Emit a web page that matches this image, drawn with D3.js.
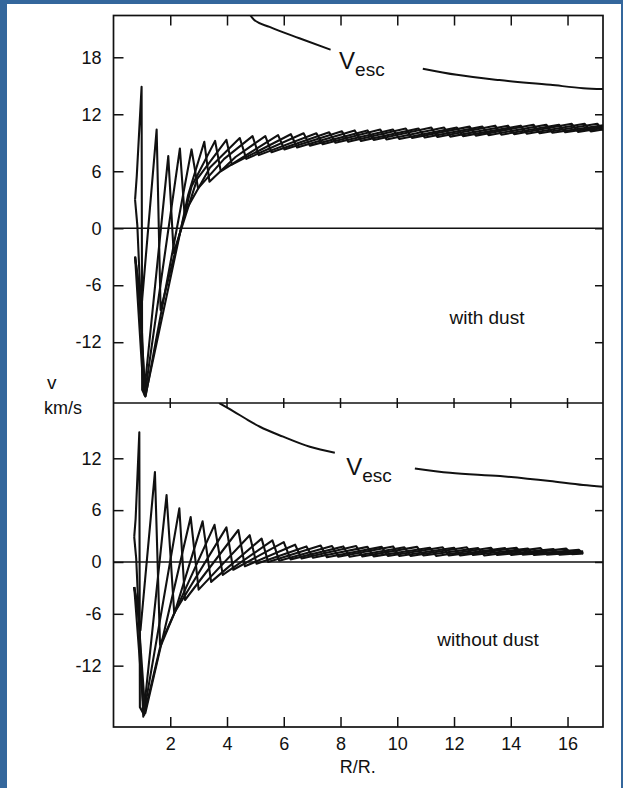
<!DOCTYPE html>
<html>
<head>
<meta charset="utf-8">
<script src="https://cdn.jsdelivr.net/npm/d3@7"></script>
<style>
  html, body { margin: 0; padding: 0; background: #ffffff; }
  svg { display: block; }
  text { font-family: "Liberation Sans", Arial, Helvetica, sans-serif; fill: #111; }
</style>
</head>
<body>
<svg id="chart" width="623" height="788"></svg>
<script>
// Radial velocity profiles v(R) of the pulsating atmosphere at five phases.
// Each profile is listed as [R/R*, v (km/s)] turning points.

// ---- with dust (upper panel) ----
const dustShell0 = [[0.76,3.0],[0.82,5.5],[0.99,14.9],[1.01,-17.0],[1.12,-17.7],[2.63,3.5],[3.2,9.1],[3.38,4.9],[4.3,7.5],[5.35,9.7],[5.57,8.0],[7.6,10.1],[7.82,9.0],[9.85,10.4],[10.07,9.4],[12.1,10.6],[12.32,9.7],[14.35,10.8],[14.57,9.95],[16.6,11.0],[16.82,10.2],[17.25,10.4]];
const dustShell1 = [[0.76,-3.0],[0.99,-8.2],[1.52,10.4],[1.66,-8.6],[2.75,4.4],[3.58,9.2],[3.78,6.0],[5.8,9.8],[6.02,8.3],[8.05,10.2],[8.27,9.1],[10.3,10.5],[10.52,9.5],[12.55,10.7],[12.77,9.75],[14.8,10.9],[15.02,10.0],[17.05,11.0],[17.25,10.3]];
const dustShell2 = [[0.76,-3.0],[1.0,-14.5],[1.08,-17.4],[1.93,7.6],[2.12,-2.6],[2.95,5.2],[3.98,9.3],[4.17,6.7],[6.25,9.9],[6.47,8.5],[8.5,10.3],[8.72,9.2],[10.75,10.5],[10.97,9.55],[13.0,10.7],[13.22,9.8],[15.25,10.9],[15.47,10.05],[17.25,10.85]];
const dustShell3 = [[0.76,3.0],[0.84,0.3],[1.1,-17.6],[2.34,8.4],[2.5,1.6],[3.4,6.4],[4.45,9.5],[4.68,7.3],[6.7,10.0],[6.92,8.7],[8.95,10.3],[9.17,9.3],[11.2,10.6],[11.42,9.6],[13.45,10.8],[13.67,9.85],[15.7,10.9],[15.92,10.1],[17.25,10.7]];
const dustShell4 = [[0.76,-3.0],[0.86,-5.5],[1.13,-17.7],[2.75,8.3],[2.98,4.2],[3.9,7.3],[4.9,9.7],[5.12,7.7],[7.15,10.0],[7.37,8.85],[9.4,10.4],[9.62,9.35],[11.65,10.6],[11.87,9.65],[13.9,10.8],[14.12,9.9],[16.15,11.0],[16.37,10.15],[17.25,10.55]];

// ---- without dust (lower panel) ----
const plainShell0 = [[0.73,2.9],[0.78,5.0],[0.91,15.0],[0.93,-16.8],[1.08,-17.7],[1.64,-9.9],[2.17,-5.7],[3.14,4.7],[3.44,-2.3],[5.22,2.7],[5.45,0.0],[7.3,1.9],[7.52,0.55],[9.45,1.75],[9.67,0.7],[11.6,1.7],[11.82,0.75],[13.8,1.6],[14.02,0.8],[15.95,1.55],[16.17,0.9],[16.55,1.0]];
const plainShell1 = [[0.73,-2.9],[0.95,-7.9],[1.46,10.4],[1.64,-9.6],[3.56,4.3],[3.85,-1.5],[5.6,2.5],[5.84,0.15],[7.7,1.85],[7.92,0.6],[9.85,1.8],[10.07,0.7],[12.0,1.65],[12.22,0.75],[14.2,1.65],[14.42,0.85],[16.4,1.4],[16.55,0.95]];
const plainShell2 = [[0.73,-2.9],[1.0,-14.6],[1.07,-17.3],[1.87,7.75],[2.14,-5.9],[3.98,4.0],[4.22,-0.9],[6.0,2.3],[6.24,0.3],[8.1,1.8],[8.32,0.6],[10.25,1.7],[10.47,0.7],[12.45,1.7],[12.67,0.8],[14.6,1.55],[14.82,0.8],[16.55,1.25]];
const plainShell3 = [[0.73,2.9],[0.8,0.4],[1.05,-17.9],[2.32,6.2],[2.52,-4.4],[4.4,3.7],[4.63,-0.5],[6.4,2.0],[6.63,0.4],[8.55,1.85],[8.77,0.65],[10.7,1.75],[10.92,0.75],[12.85,1.6],[13.07,0.75],[15.05,1.6],[15.27,0.85],[16.55,1.15]];
const plainShell4 = [[0.73,-2.9],[0.85,-5.0],[1.12,-17.5],[2.72,5.2],[3.0,-3.2],[4.8,3.1],[5.04,-0.2],[6.8,1.8],[7.03,0.5],[8.95,1.75],[9.17,0.65],[11.15,1.65],[11.37,0.7],[13.3,1.65],[13.52,0.8],[15.5,1.5],[15.72,0.85],[16.55,1.05]];

// ---- escape velocity (two pieces each, broken around the label) ----
const vescDustInner   = [[4.7,23.0],[4.95,21.95],[5.5,21.2],[6.55,20.0],[7.65,18.8]];
const vescDustOuter   = [[10.9,16.8],[12.1,16.15],[13.6,15.6],[15.4,15.1],[16.55,14.75],[17.25,14.65]];
const vescPlainInner  = [[3.72,18.4],[4.2,17.5],[4.8,16.3],[5.16,15.65],[5.98,14.5],[6.92,13.33],[7.8,12.65]];
const vescPlainOuter  = [[10.62,10.83],[11.86,10.32],[13.62,9.94],[15.38,9.36],[16.55,8.9],[17.25,8.7]];

// ---- axes ----
const radiusTicks = [2,4,6,8,10,12,14,16];
const dustTicks   = [-12,-6,0,6,12,18];
const plainTicks  = [-12,-6,0,6,12];

const svg = d3.select("#chart");
const W = 623, H = 788;

// page border
svg.append("rect").attr("x",0).attr("y",0).attr("width",W).attr("height",H).attr("fill","#34679c");
svg.append("rect").attr("x",7).attr("y",4).attr("width",W-9).attr("height",H-4).attr("fill","#ffffff");

const left = 113.5, right = 603;
const x = d3.scaleLinear().domain([0, 17.25]).range([left, right]);

const panels = [
  { id:"dust",  y: d3.scaleLinear().domain([-18.4, 22.4]).range([403, 15.5]), ticks: dustTicks,
    shells:[dustShell0,dustShell1,dustShell2,dustShell3,dustShell4],
    vesc:[vescDustInner, vescDustOuter], label:"with dust", labelPos:[13.16,-10.1],
    vescLabel:[7.95,16.8] },
  { id:"plain", y: d3.scaleLinear().domain([-19.1, 18.4]).range([727, 403]), ticks: plainTicks,
    shells:[plainShell0,plainShell1,plainShell2,plainShell3,plainShell4],
    vesc:[vescPlainInner, vescPlainOuter], label:"without dust", labelPos:[13.2,-9.7],
    vescLabel:[8.2,10.05] }
];

const defs = svg.append("defs");

panels.forEach(p => {
  const y = p.y;
  const top = y.range()[1], bottom = y.range()[0];

  defs.append("clipPath").attr("id","clip-"+p.id)
    .append("rect").attr("x",left).attr("y",top).attr("width",right-left).attr("height",bottom-top);

  const g = svg.append("g");

  // zero line
  g.append("line").attr("x1",left).attr("x2",right).attr("y1",y(0)).attr("y2",y(0))
    .attr("stroke","#111").attr("stroke-width",1.5);

  const line = d3.line().x(d => x(d[0])).y(d => y(d[1]));
  const smooth = d3.line().x(d => x(d[0])).y(d => y(d[1])).curve(d3.curveMonotoneX);

  const plot = g.append("g").attr("clip-path","url(#clip-"+p.id+")");
  p.shells.forEach(s => {
    plot.append("path").attr("d", line(s)).attr("fill","none")
      .attr("stroke","#111").attr("stroke-width",2.1).attr("stroke-linejoin","round");
  });
  p.vesc.forEach(s => {
    plot.append("path").attr("d", smooth(s)).attr("fill","none")
      .attr("stroke","#111").attr("stroke-width",2.0);
  });

  // left axis with inward ticks
  g.append("g").attr("transform",`translate(${left},0)`)
    .call(d3.axisLeft(y).tickValues(p.ticks).tickSizeInner(-10).tickSizeOuter(0).tickPadding(12).tickFormat(d => d < 0 ? "-" + Math.abs(d) : d))
    .call(a => a.select(".domain").remove())
    .call(a => a.selectAll("line").attr("stroke","#111").attr("stroke-width",1.5))
    .call(a => a.selectAll("text").attr("font-size",18).attr("fill","#111")
      .style("font-family","'Liberation Sans', Arial, sans-serif"));

  // right axis ticks
  g.append("g").attr("transform",`translate(${right},0)`)
    .call(d3.axisRight(y).tickValues(p.ticks).tickSizeInner(-8).tickSizeOuter(0).tickFormat(""))
    .call(a => a.select(".domain").remove())
    .call(a => a.selectAll("line").attr("stroke","#111").attr("stroke-width",1.5));

  // panel label
  g.append("text").attr("x", x(p.labelPos[0])).attr("y", y(p.labelPos[1]))
    .attr("text-anchor","middle").attr("font-size",19).text(p.label);

  // escape velocity label
  const vt = g.append("text").attr("x", x(p.vescLabel[0])).attr("y", y(p.vescLabel[1])).attr("font-size",24);
  vt.append("tspan").text("V");
  vt.append("tspan").attr("dy",7).attr("font-size",19).text("esc");
});

const yTop = panels[0].y, yBot = panels[1].y;

// top edge ticks (pointing down)
svg.append("g").attr("transform",`translate(0,${yTop.range()[1]})`)
  .call(d3.axisTop(x).tickValues(radiusTicks).tickSizeInner(-10).tickSizeOuter(0).tickFormat(""))
  .call(a => a.select(".domain").remove())
  .call(a => a.selectAll("line").attr("stroke","#111").attr("stroke-width",1.5));

// shared boundary ticks (crossing)
const midY = yTop.range()[0];
svg.append("g").selectAll("line").data(radiusTicks).join("line")
  .attr("x1", d => x(d)).attr("x2", d => x(d))
  .attr("y1", midY - 5).attr("y2", midY + 5)
  .attr("stroke","#111").attr("stroke-width",1.5);

// bottom axis
svg.append("g").attr("transform",`translate(0,${yBot.range()[0]})`)
  .call(d3.axisBottom(x).tickValues(radiusTicks).tickSizeInner(-10).tickSizeOuter(0).tickPadding(10))
  .call(a => a.select(".domain").remove())
  .call(a => a.selectAll("line").attr("stroke","#111").attr("stroke-width",1.5))
  .call(a => a.selectAll("text").attr("font-size",18).attr("fill","#111")
    .style("font-family","'Liberation Sans', Arial, sans-serif"));

// frames
svg.append("rect").attr("x",left).attr("y",yTop.range()[1]).attr("width",right-left)
  .attr("height",yBot.range()[0]-yTop.range()[1]).attr("fill","none").attr("stroke","#111").attr("stroke-width",1.7);
svg.append("line").attr("x1",left).attr("x2",right).attr("y1",midY).attr("y2",midY)
  .attr("stroke","#111").attr("stroke-width",1.7);

// axis titles
svg.append("text").attr("x", (left+right)/2 - 0.5).attr("y", 773).attr("text-anchor","middle")
  .attr("font-size",18).text("R/R.");
svg.append("text").attr("x", 47).attr("y", 389).attr("font-size",19).text("v");
svg.append("text").attr("x", 44).attr("y", 414).attr("font-size",18).text("km/s");
</script>
</body>
</html>
